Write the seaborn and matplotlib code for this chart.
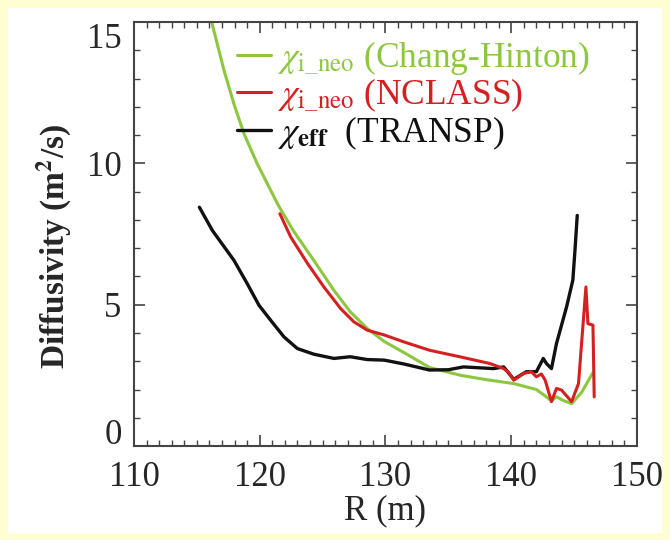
import pandas as pd
import matplotlib.pyplot as plt
import seaborn as sns
from matplotlib.patches import Rectangle
from matplotlib.ticker import MultipleLocator
from matplotlib.transforms import ScaledTranslation

# Chang-Hinton neoclassical ion diffusivity
r_ch = [115.9, 116.15, 117.16, 117.95, 118.75, 119.8, 120.87, 121.5, 122.7, 124.3,
        125.9, 127.2, 128.55, 129.9, 131.5, 133.5, 136.0, 138.0, 140.2, 142.0,
        142.8, 143.2, 143.6, 144.2, 144.8, 145.6, 146.5]
chi_ch = [15.6, 15.05, 13.29, 12.1, 11.05, 9.99, 9.05, 8.5, 7.6, 6.57,
          5.51, 4.75, 4.16, 3.7, 3.3, 2.78, 2.5, 2.35, 2.21, 2.0,
          1.74, 1.6, 1.74, 1.6, 1.5, 1.9, 2.6]

# NCLASS neoclassical ion diffusivity
r_nc = [121.6, 122.46, 123.8, 125.1, 126.44, 127.5, 128.55, 129.9, 131.5, 133.5,
        136.0, 138.3, 139.4, 139.8, 140.2, 141.0, 141.6, 142.0, 142.4, 142.7,
        143.2, 143.6, 144.0, 144.8, 145.35, 145.94, 146.1, 146.5, 146.6]
chi_nc = [8.22, 7.4, 6.46, 5.63, 4.86, 4.39, 4.1, 3.93, 3.68, 3.39,
          3.15, 2.92, 2.74, 2.6, 2.33, 2.57, 2.63, 2.45, 2.55, 2.33,
          1.57, 2.04, 1.98, 1.57, 2.21, 5.63, 4.33, 4.28, 1.74]

# TRANSP effective diffusivity
r_tr = [115.2, 116.23, 117.95, 119.0, 119.94, 120.87, 121.93, 122.99, 124.3, 125.9,
        127.2, 128.55, 129.9, 131.5, 133.5, 135.0, 136.2, 138.6, 139.4, 140.2,
        141.2, 142.0, 142.55, 142.8, 143.2, 143.6, 144.4, 144.9, 145.07, 145.25]
chi_tr = [8.45, 7.63, 6.57, 5.75, 4.98, 4.45, 3.86, 3.45, 3.25, 3.1,
          3.16, 3.06, 3.04, 2.9, 2.69, 2.7, 2.8, 2.74, 2.8, 2.36,
          2.63, 2.63, 3.1, 2.92, 2.74, 3.63, 4.92, 5.87, 6.93, 8.16]

labels = [r'$\chi_{\mathrm{i\_neo}}$ (Chang-Hinton)',
          r'$\chi_{\mathrm{i\_neo}}$ (NCLASS)',
          r'$\chi_{\mathbf{eff}}$  (TRANSP)']
colors = ['#8dc63f', '#d42020', '#111111']

sns.set_style('ticks')
plt.rcParams['font.family'] = ['Liberation Serif', 'DejaVu Serif']
plt.rcParams['mathtext.fontset'] = 'stix'

fig = plt.figure(figsize=(6.7, 5.4), dpi=100, facecolor='#fffed2')
fig.patches.append(Rectangle((8 / 670, 7 / 540), 654 / 670, 525 / 540,
                             transform=fig.transFigure, facecolor='white',
                             edgecolor='none', zorder=-10))
ax = fig.add_axes([0.2, 0.174, 0.7507, 0.785])
ax.set_facecolor('white')

sns.lineplot(x=r_ch, y=chi_ch, ax=ax, color=colors[0], lw=2.2, sort=False,
             estimator=None, label=labels[0], zorder=2)
sns.lineplot(x=r_tr, y=chi_tr, ax=ax, color=colors[2], lw=2.4, sort=False,
             estimator=None, label=labels[2], zorder=3)
sns.lineplot(x=r_nc, y=chi_nc, ax=ax, color=colors[1], lw=2.2, sort=False,
             estimator=None, label=labels[1], zorder=4)

ax.set_xlim(110, 150)
ax.set_ylim(0, 15)
ax.xaxis.set_major_locator(MultipleLocator(10))
ax.xaxis.set_minor_locator(MultipleLocator(1))
ax.yaxis.set_major_locator(MultipleLocator(5))
ax.yaxis.set_minor_locator(MultipleLocator(1))
ax.tick_params(which='both', direction='in', top=True, right=True,
               color='#444444', labelsize=25)
ax.tick_params(axis='x', pad=11)
ax.tick_params(axis='y', pad=9)
ax.tick_params(which='major', length=8, width=1.2)
ax.tick_params(which='minor', length=4, width=1.0)
for s in ax.spines.values():
    s.set_color('#444444')
    s.set_linewidth(1.5)

ax.set_xlabel('R (m)', fontsize=25, labelpad=0)
ax.set_ylabel(r'Diffusivity (m$^\mathbf{2}$/s)', fontsize=24,
              fontweight='bold')
ax.yaxis.set_label_coords(-0.12, 0.47)

handles, labs = ax.get_legend_handles_labels()
order = [labs.index(l) for l in labels]
leg = ax.legend([handles[i] for i in order], [labs[i] for i in order],
                loc='upper left', bbox_to_anchor=(0.205, 0.96), frameon=False,
                fontsize=25.5, handlelength=0.95, handletextpad=0.2,
                labelspacing=0.0, borderpad=0, borderaxespad=0)
for t, c in zip(leg.get_texts(), colors):
    t.set_color(c)

# end labels of the y axis sit inside the frame, as in the original
fig.canvas.draw()
for tick in ax.yaxis.get_major_ticks():
    loc = tick.get_loc()
    if loc is None:
        continue
    if abs(loc - 0) < 1e-6:
        shift = ScaledTranslation(0, 15 / 100, fig.dpi_scale_trans)
        tick.label1.set_transform(tick.label1.get_transform() + shift)
    elif abs(loc - 15) < 1e-6:
        shift = ScaledTranslation(0, -13 / 100, fig.dpi_scale_trans)
        tick.label1.set_transform(tick.label1.get_transform() + shift)

fig.savefig('out.png', dpi=100, facecolor=fig.get_facecolor())
